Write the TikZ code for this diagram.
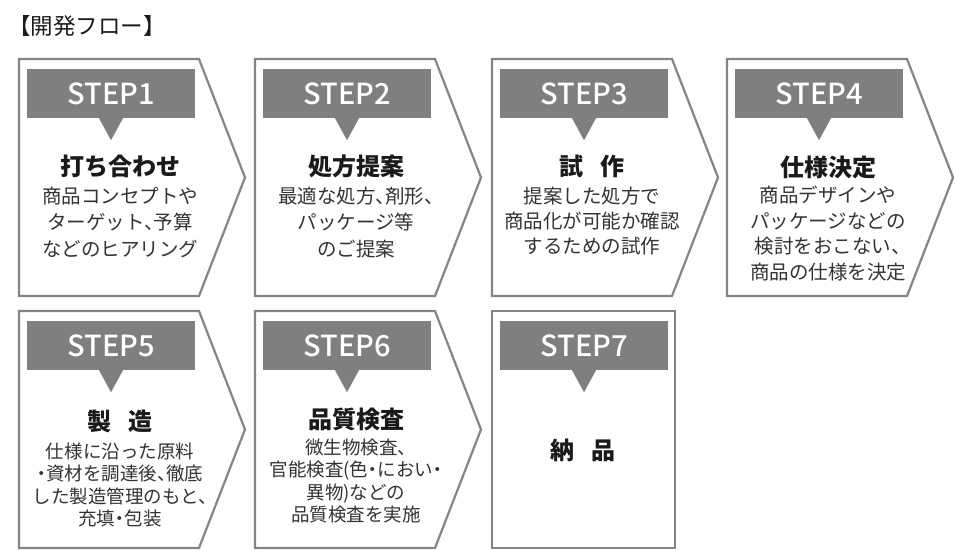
\documentclass[tikz,border=0pt]{standalone}
\usepackage{fontspec}
\setmainfont{Noto Sans CJK JP}
\newfontfamily\headfont{Noto Sans CJK JP Medium}
\newfontfamily\bodyfont{Noto Sans CJK JP}[RawFeature=+halt]
\usetikzlibrary{positioning}

\definecolor{framegray}{HTML}{858585}
\definecolor{headgray}{HTML}{7F7F7F}
\definecolor{titleblack}{HTML}{1A1A1A}
\definecolor{bodygray}{HTML}{333333}

\tikzset{
  boxframe/.style={draw=framegray, line width=2.2pt, fill=white},
  stephead/.style={fill=headgray, text=white, minimum width=168pt, minimum height=49pt,
    inner sep=0pt, font=\headfont\fontsize{29}{29}\selectfont},
  steptitle/.style={text=titleblack, inner sep=0pt, font=\fontsize{24}{24}\selectfont\bfseries},
  stepbody/.style={text=bodygray, inner sep=0pt, align=center, font=\bodyfont\fontsize{19.5}{26.5}\selectfont},
  lowbody/.style={stepbody, font=\bodyfont\fontsize{18.5}{22.5}\selectfont},
}

\begin{document}
\begin{tikzpicture}[x=1pt,y=-1pt]
    \useasboundingbox (0,0) rectangle (955,550);
    % Heading
    \node[anchor=west, inner sep=0pt, text=titleblack, font=\fontsize{22.5}{22.5}\selectfont] (flow) at (8,26) {【開発フロー】};

    % Arrow-shaped frames
    \foreach \x/\y in {19/59, 255/59, 492/59, 727/59, 19/311, 255/311}
        \draw[boxframe] (\x,\y) -- ++(180,0) -- ++(46,118.5) -- ++(-46,118.5) -- ++(-180,0) -- cycle;
    \draw[boxframe] (492,311) rectangle ++(183,237); % last step

    % Step labels with their pointers
    \foreach \n/\x/\y in {1/19/59, 2/255/59, 3/492/59, 4/727/59, 5/19/311, 6/255/311, 7/492/311} {
        \node[stephead] (h\n) at (\x+92,\y+34.5) {STEP\n};
        \fill[headgray] ([xshift=-12pt]h\n.south) -- ([xshift=12pt]h\n.south) -- ([yshift=-22pt]h\n.south) -- cycle;
    }

    % Titles and descriptions
    \node[steptitle] (t1) at (120,166) {打ち合わせ};
    \node[stepbody, below=9pt of t1] (b1) {商品コンセプトや\\ターゲット、予算\\などのヒアリング};
    \node[steptitle] (t2) at (356,166) {処方提案};
    \node[stepbody, below=9pt of t2] (b2) {最適な処方、剤形、\\パッケージ等\\のご提案};
    \node[steptitle] (t3) at (592,166) {試\hspace{0.7em}作};
    \node[stepbody, below=9pt of t3, font=\bodyfont\fontsize{19.5}{25}\selectfont] (b3) {提案した処方で\\商品化が可能か確認\\するための試作};
    \node[steptitle] (t4) at (828,167) {仕様決定};
    \node[stepbody, below=7pt of t4, font=\bodyfont\fontsize{19.5}{25.5}\selectfont] (b4) {商品デザインや\\パッケージなどの\\検討をおこない、\\商品の仕様を決定};
    \node[steptitle] (t5) at (120,421) {製\hspace{0.7em}造};
    \node[lowbody, below=10pt of t5] (b5) {仕様に沿った原料\\・資材を調達後、徹底\\した製造管理のもと、\\充填・包装};
    \node[steptitle] (t6) at (356,419) {品質検査};
    \node[lowbody, below=8pt of t6] (b6) {微生物検査、\\官能検査(色・におい・\\異物)などの\\品質検査を実施};
    \node[steptitle] (t7) at (583,450) {納\hspace{0.7em}品};
\end{tikzpicture}
\end{document}
